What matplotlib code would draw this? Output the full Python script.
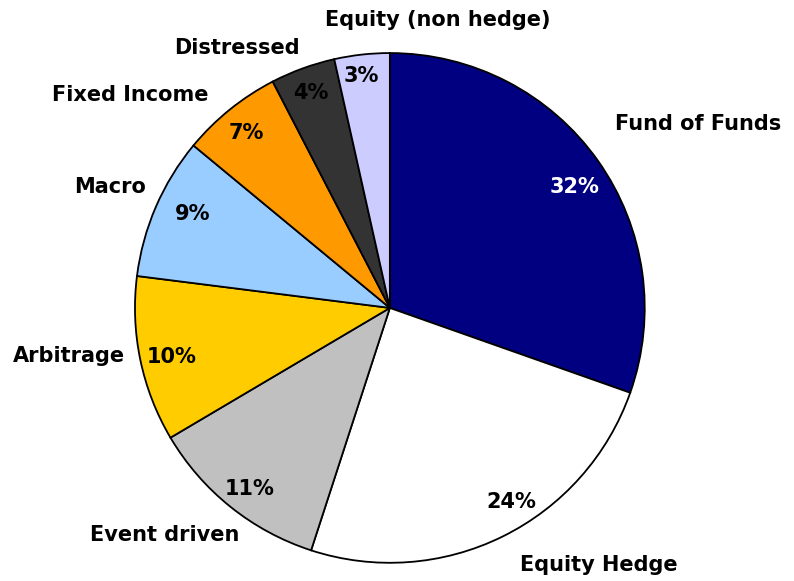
import matplotlib
matplotlib.use("Agg")
import matplotlib.pyplot as plt

plt.rcParams['font.family'] = ['DejaVu Sans']

# Data (slice sizes, labels as printed)
categories = ["Fund of Funds", "Equity Hedge", "Event driven", "Arbitrage",
              "Macro", "Fixed Income", "Distressed", "Equity (non hedge)"]
shares = [30.4, 24.6, 11.5, 10.5, 9.0, 6.4, 4.1, 3.5]
pct_labels = ["32%", "24%", "11%", "10%", "9%", "7%", "4%", "3%"]

# Styles
colors = ["#000080", "#FFFFFF", "#C0C0C0", "#FFCC00",
          "#99CCFF", "#FF9900", "#333333", "#CCCCFF"]
pct_colors = ["white"] + ["black"] * 7

# text placement (in units of pie radius)
name_pos = [(1.208, 0.722), (0.820, -1.008), (-0.882, -0.890), (-1.261, -0.188),
            (-1.098, 0.475), (-1.020, 0.835), (-0.600, 1.020), (0.186, 1.130)]
pct_pos = [(0.725, 0.475), (0.478, -0.761), (-0.549, -0.710), (-0.855, -0.192),
           (-0.773, 0.369), (-0.565, 0.686), (-0.310, 0.843), (-0.114, 0.910)]

fig = plt.figure(figsize=(7.94, 5.81), dpi=100)
ax = fig.add_axes([0.170, 0.031, 0.642, 0.878])

ax.pie(shares, colors=colors, startangle=90, counterclock=False,
       wedgeprops=dict(edgecolor="black", linewidth=1.3), radius=1.0)

for name, (x, y) in zip(categories, name_pos):
    ax.text(x, y, name, ha="center", va="center", fontsize=15, fontweight="bold")

for lab, (x, y), c in zip(pct_labels, pct_pos, pct_colors):
    ax.text(x, y, lab, ha="center", va="center", fontsize=15, fontweight="bold", color=c)

ax.set_xlim(-1, 1)
ax.set_ylim(-1, 1)
ax.set_aspect("equal")
ax.axis("off")

fig.savefig("out.png", dpi=100)
